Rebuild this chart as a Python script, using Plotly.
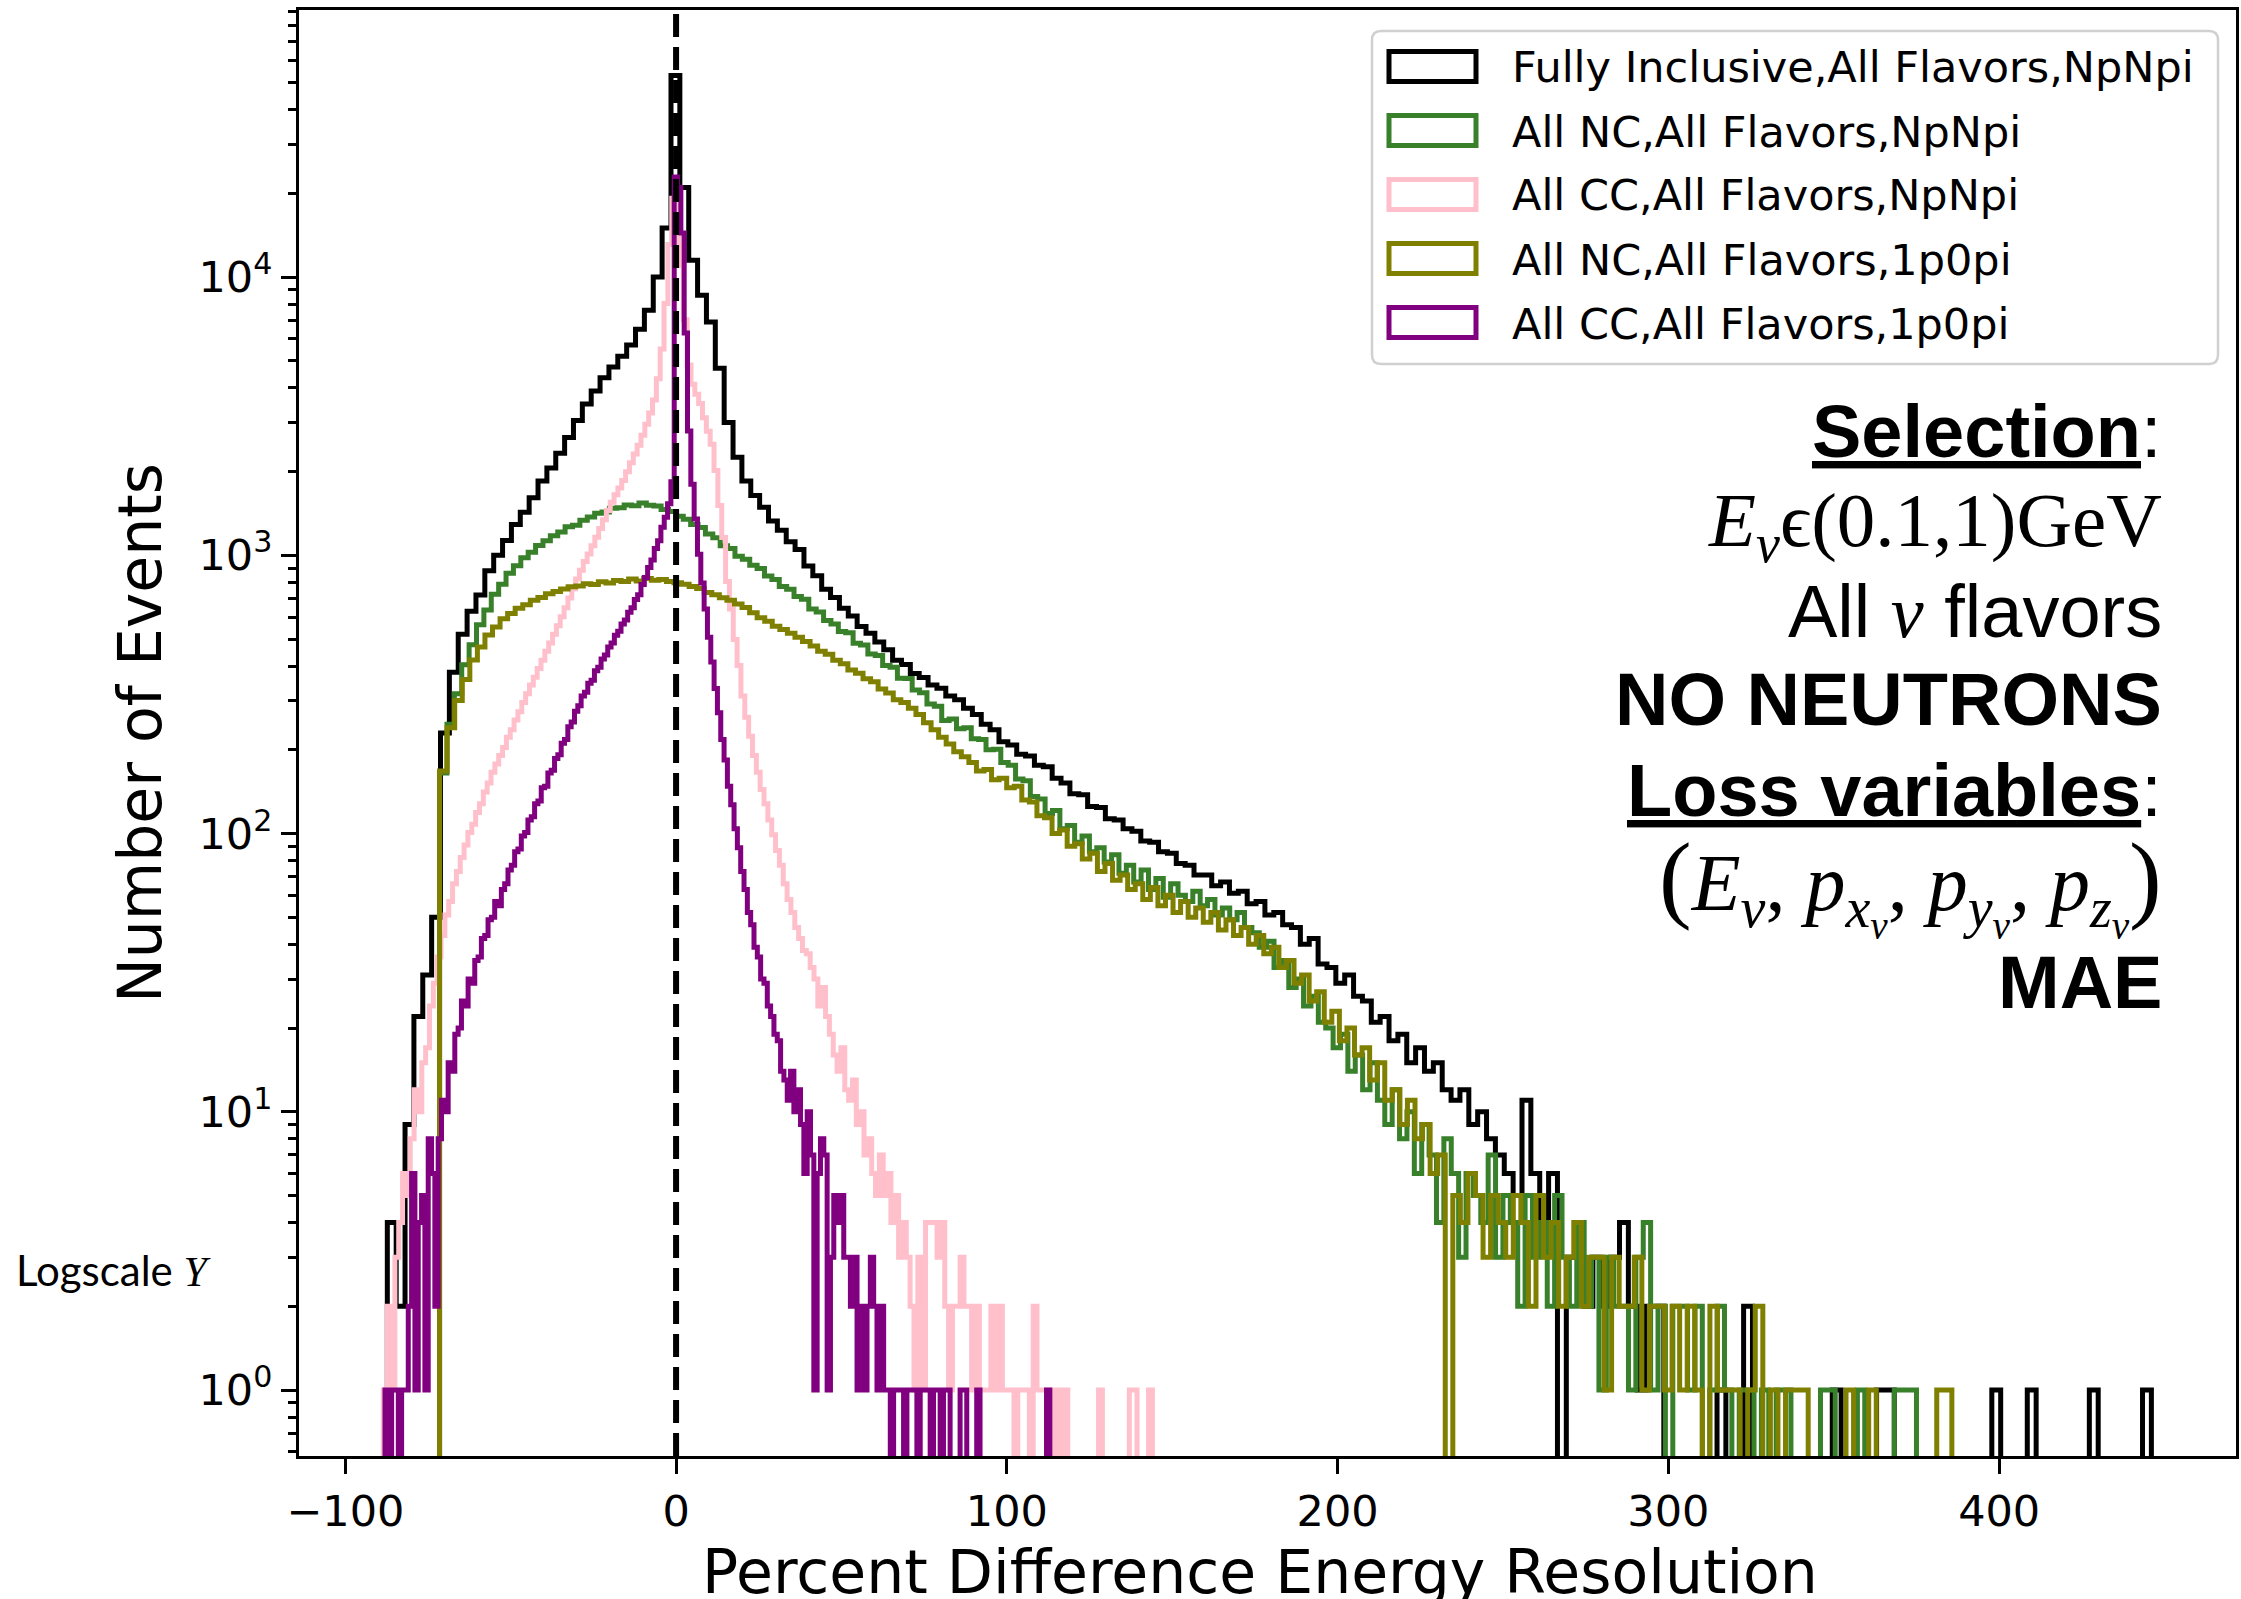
import plotly.graph_objects as go

# ------------------------------------------------------------------ data
SERIES = [
    "Fully Inclusive,All Flavors,NpNpi",
    "All NC,All Flavors,NpNpi",
    "All CC,All Flavors,NpNpi",
    "All NC,All Flavors,1p0pi",
    "All CC,All Flavors,1p0pi",
]
COLORS = ["#000000", "#38802a", "#ffc0cb", "#808000", "#800080"]

# first bin edge and bin width of each histogram (200 bins each)
BIN_START = [-87.3, -71.5, -88.5, -71.5, -88.0]
BIN_WIDTH = [2.68, 2.2325, 1.1625, 2.286, 1.005]

counts_fully_inclusive = [
    4, 2, 9, 22, 31, 50, 230, 380, 520, 630,
    720, 880, 1000, 1130, 1290, 1430, 1610, 1850, 2060, 2330,
    2650, 3050, 3500, 3900, 4350, 4750, 5200, 5700, 6500, 7600,
    10000, 15000, 53000, 21000, 11500, 8600, 6900, 4700, 3000, 2250,
    1850, 1640, 1490, 1330, 1230, 1120, 1050, 915, 845, 755,
    705, 645, 605, 555, 525, 488, 458, 420, 405, 376,
    364, 342, 333, 312, 303, 282, 268, 247, 236, 214,
    208, 193, 190, 176, 174, 158, 152, 139, 138, 125,
    124, 113, 112, 104, 102, 94, 93, 86, 85, 78,
    77, 71, 71, 65, 67, 61, 62, 56, 57, 51,
    52, 47, 46, 40, 42, 34, 33, 29, 31, 26,
    25, 21, 22, 18, 19, 15, 17, 14, 15, 12,
    11, 12, 9, 10, 8, 7, 6, 5, 11, 6,
    4, 6, 0, 3, 3, 2, 3, 2, 3, 4,
    2, 1, 2, 2, 0, 0, 0, 0, 0, 0,
    1, 0, 0, 2, 0, 0, 0, 0, 0, 0,
    0, 0, 0, 1, 0, 0, 0, 0, 1, 1,
    0, 0, 0, 0, 0, 0, 0, 0, 0, 0,
    0, 1, 0, 0, 0, 1, 0, 0, 0, 0,
    0, 0, 1, 0, 0, 0, 0, 0, 1, 0,
]
counts_nc_npnpi = [
    165, 247, 318, 404, 477, 563, 636, 724, 788, 862,
    918, 981, 1026, 1085, 1128, 1176, 1214, 1268, 1283, 1336,
    1374, 1418, 1432, 1478, 1482, 1516, 1508, 1542, 1515, 1503,
    1462, 1437, 1381, 1348, 1292, 1258, 1193, 1156, 1082, 1058,
    992, 968, 921, 897, 843, 818, 772, 756, 712, 695,
    641, 626, 583, 566, 532, 527, 483, 476, 442, 437,
    402, 396, 362, 361, 328, 321, 292, 287, 255, 258,
    238, 240, 219, 218, 200, 201, 180, 176, 157, 155,
    136, 133, 118, 121, 104, 107, 93, 98, 86, 89,
    79, 84, 72, 77, 67, 74, 63, 69, 59, 66,
    60, 57, 62, 55, 58, 51, 54, 49, 52, 46,
    44, 39, 41, 33, 35, 28, 30, 24, 26, 21,
    20, 17, 19, 14, 16, 12, 15, 11, 9, 12,
    8, 10, 6, 9, 7, 4, 8, 6, 3, 6,
    5, 4, 7, 3, 5, 4, 2, 5, 3, 4,
    2, 5, 3, 2, 4, 2, 3, 1, 3, 2,
    2, 1, 3, 4, 1, 2, 0, 2, 2, 1,
    2, 0, 1, 2, 1, 0, 1, 1, 0, 1,
    0, 1, 1, 0, 0, 0, 0, 1, 1, 0,
    0, 0, 1, 0, 0, 0, 0, 1, 1, 1,
]
counts_cc_npnpi = [
    1, 2, 1, 3, 4, 6, 5, 8, 12, 10,
    15, 17, 24, 29, 36, 43, 51, 57, 66, 73,
    82, 91, 101, 108, 119, 128, 141, 152, 166, 178,
    191, 204, 222, 236, 256, 274, 296, 318, 342, 365,
    392, 420, 452, 484, 521, 558, 602, 648, 702, 758,
    822, 884, 951, 1012, 1083, 1162, 1248, 1342, 1448, 1551,
    1652, 1747, 1856, 1998, 2153, 2312, 2486, 2704, 2962, 3248,
    3614, 4310, 5520, 8030, 13100, 19200, 21000, 11000, 7020, 4830,
    4120, 3790, 3510, 3120, 2790, 2510, 2020, 1510, 1160, 805,
    642, 498, 402, 312, 262, 224, 191, 166, 144, 128,
    112, 99, 87, 77, 66, 58, 52, 46, 42, 38,
    37, 33, 30, 24, 28, 22, 19, 16, 14, 17,
    12, 11, 13, 9, 10, 7, 8, 6, 5, 7,
    5, 6, 4, 5, 3, 4, 3, 2, 1, 3,
    1, 4, 4, 4, 3, 4, 2, 1, 2, 2,
    3, 2, 2, 1, 2, 1, 1, 1, 2, 1,
    2, 1, 1, 1, 0, 1, 1, 1, 0, 2,
    1, 1, 1, 1, 0, 1, 0, 1, 0, 0,
    0, 0, 0, 0, 0, 0, 1, 0, 0, 0,
    0, 0, 0, 0, 1, 1, 0, 0, 0, 1,
]
counts_nc_1p0pi = [
    168, 240, 301, 358, 421, 468, 517, 553, 592, 618,
    646, 664, 690, 706, 728, 742, 757, 771, 776, 790,
    785, 803, 796, 812, 806, 822, 808, 825, 813, 818,
    806, 797, 788, 772, 760, 736, 722, 704, 690, 668,
    650, 622, 597, 580, 556, 541, 525, 508, 490, 472,
    452, 441, 420, 408, 387, 377, 360, 351, 331, 320,
    303, 296, 282, 268, 250, 236, 222, 210, 197, 189,
    180, 168, 170, 156, 158, 146, 148, 132, 130, 116,
    114, 100, 103, 90, 92, 81, 85, 73, 78, 68,
    71, 63, 66, 58, 64, 55, 60, 52, 57, 50,
    54, 48, 52, 45, 49, 43, 46, 40, 43, 37,
    39, 33, 35, 29, 31, 25, 27, 21, 23, 18,
    20, 16, 17, 13, 15, 11, 12, 9, 11, 8,
    9, 6, 7, 0, 5, 4, 6, 5, 3, 5,
    4, 3, 5, 4, 2, 5, 3, 4, 2, 3,
    4, 2, 3, 3, 1, 3, 2, 2, 3, 1,
    2, 2, 1, 2, 1, 2, 1, 0, 2, 1,
    1, 1, 0, 1, 2, 0, 1, 0, 1, 1,
    1, 0, 0, 0, 0, 0, 1, 0, 0, 1,
    0, 0, 0, 0, 0, 0, 0, 0, 1, 1,
]
counts_cc_1p0pi = [
    1, 0, 1, 1, 0, 1, 1, 2, 6, 1,
    4, 5, 1, 8, 6, 2, 8, 11, 10, 15,
    14, 19, 20, 25, 24, 30, 29, 35, 36, 42,
    43, 49, 50, 57, 55, 63, 66, 74, 77, 86,
    88, 98, 101, 112, 115, 128, 131, 146, 148, 165,
    169, 186, 192, 211, 218, 242, 252, 275, 288, 312,
    322, 347, 356, 385, 396, 424, 438, 468, 484, 516,
    534, 567, 586, 624, 648, 694, 722, 786, 832, 905,
    962, 1058, 1128, 1262, 1371, 1532, 1840, 22900, 21000, 14400,
    6300, 2800, 1800, 1350, 1010, 795, 642, 508, 414, 332,
    272, 218, 184, 148, 127, 104, 89, 73, 63, 52,
    47, 39, 36, 30, 29, 24, 22, 19, 18, 14,
    13, 11, 14, 10, 12, 9, 6, 10, 7, 1,
    6, 8, 7, 1, 3, 5, 4, 5, 3, 3,
    2, 3, 1, 2, 1, 2, 3, 2, 1, 2,
    1, 1, 0, 1, 1, 1, 0, 1, 1, 1,
    0, 1, 1, 1, 0, 1, 1, 0, 1, 1,
    0, 0, 0, 1, 1, 0, 0, 0, 1, 0,
    0, 0, 0, 0, 0, 0, 0, 0, 0, 0,
    0, 0, 0, 0, 0, 0, 0, 0, 0, 1,
]
ALL_COUNTS = [counts_fully_inclusive, counts_nc_npnpi, counts_cc_npnpi,
              counts_nc_1p0pi, counts_cc_1p0pi]

X_TICKS = [-100, 0, 100, 200, 300, 400]
X_TICK_TEXT = ["\u2212100", "0", "100", "200", "300", "400"]
Y_TICKS = [1, 10, 100, 1000, 10000]
Y_TICK_TEXT = ["10<sup>0</sup>", "10<sup>1</sup>", "10<sup>2</sup>",
               "10<sup>3</sup>", "10<sup>4</sup>"]
Y_MINOR = [m * 10 ** e for e in range(-1, 5) for m in range(2, 10)]

X_TITLE = "Percent Difference Energy Resolution"
Y_TITLE = "Number of Events"

# ------------------------------------------------------------------ geometry
W, H = 2241, 1599
ML, MR, MT, MB = 299, 5, 10, 143
PW, PH = W - ML - MR, H - MT - MB


def fx(p):
    return (p - ML) / PW


def fy(p):
    return (H - MB - p) / PH


FONT = "DejaVu Sans"
FLOOR = 0.05  # empty bins drop below the log axis
LINE_W = 5

fig = go.Figure()

for name, color, start, width, counts in zip(SERIES, COLORS, BIN_START,
                                             BIN_WIDTH, ALL_COUNTS):
    n = len(counts)
    edges = [start + width * k for k in range(n + 1)]
    xs = [edges[0]] + edges[:n] + [edges[n]]
    ys = [FLOOR] + [c if c > 0 else FLOOR for c in counts] + [FLOOR]
    fig.add_trace(go.Scatter(
        x=xs, y=ys, mode="lines", name=name, showlegend=False,
        line=dict(color=color, width=LINE_W, shape="hv"),
        hoverinfo="skip",
    ))

# vertical dashed line at 0
fig.add_shape(type="line", xref="x", yref="y domain", x0=0, x1=0, y0=0, y1=1,
              line=dict(color="black", width=6, dash="23px,10px"))

# ------------------------------------------------------------------ legend (matplotlib style)
LX0, LX1, LY0, LY1 = 1372, 2218, 31, 364
rx, ry = 9 / PW, 9 / PH
xl, xr, yt, yb = fx(LX0), fx(LX1), fy(LY0), fy(LY1)
path = (f"M {xl + rx},{yt} L {xr - rx},{yt} Q {xr},{yt} {xr},{yt - ry} "
        f"L {xr},{yb + ry} Q {xr},{yb} {xr - rx},{yb} L {xl + rx},{yb} "
        f"Q {xl},{yb} {xl},{yb + ry} L {xl},{yt - ry} Q {xl},{yt} {xl + rx},{yt} Z")
fig.add_shape(type="path", path=path, xref="paper", yref="paper",
              fillcolor="rgba(255,255,255,0.8)",
              line=dict(color="#d0d0d0", width=2.5))

annotations = []
for i, (name, color) in enumerate(zip(SERIES, COLORS)):
    cy = 66.5 + 64 * i
    fig.add_shape(type="rect", xref="paper", yref="paper",
                  x0=fx(1389), x1=fx(1476), y0=fy(cy + 15), y1=fy(cy - 15),
                  line=dict(color=color, width=5), fillcolor="rgba(0,0,0,0)")
    annotations.append(dict(
        text=name, x=fx(1510), y=fy(cy + 1), xref="paper", yref="paper",
        xanchor="left", yanchor="middle", showarrow=False,
        font=dict(family=FONT, size=43, color="black")))

# ------------------------------------------------------------------ text block on the right
SERIF = "Liberation Serif"
SANS = "Liberation Sans"
RIGHT_LINES = [
    ("<b><u>Selection</u></b>:", 432, SANS, 74),
    ("<i>E</i><sub><i>\u03bd</i></sub>\u03f5(0.1,1)GeV", 526, SERIF, 77),
    ("All <span style='font-family:Liberation Serif'><i>\u03bd</i></span> flavors",
     611, SANS, 74),
    ("<b>NO NEUTRONS</b>", 699, SANS, 74),
    ("<b><u>Loss variables</u></b>:", 790, SANS, 74),
    ("<span style='font-size:98px'>(</span><i>E</i><sub><i>\u03bd</i></sub>, "
     "<i>p</i><sub><i>x</i><sub><i>\u03bd</i></sub></sub>, "
     "<i>p</i><sub><i>y</i><sub><i>\u03bd</i></sub></sub>, "
     "<i>p</i><sub><i>z</i><sub><i>\u03bd</i></sub></sub>"
     "<span style='font-size:98px'>)</span>", 885, SERIF, 80),
    ("<b>MAE</b>", 982, SANS, 74),
]
for text, cy, fam, size in RIGHT_LINES:
    annotations.append(dict(
        text=text, x=fx(2164), y=fy(cy), xref="paper", yref="paper",
        xanchor="right", yanchor="middle", showarrow=False, align="right",
        font=dict(family=fam, size=size, color="black")))

annotations.append(dict(
    text="Logscale <span style='font-family:Liberation Serif'><i>Y</i></span>",
    x=fx(14), y=fy(1270), xref="paper", yref="paper",
    xanchor="left", yanchor="middle", showarrow=False,
    font=dict(family="Lato", size=42, color="black")))

# x-axis title, placed like the reference (partly below the picture's edge)
annotations.append(dict(
    text=X_TITLE, x=fx(1260), y=fy(1572), xref="paper", yref="paper",
    xanchor="center", yanchor="middle", showarrow=False,
    font=dict(family=FONT, size=60, color="black")))

# ------------------------------------------------------------------ axes / layout
axis_common = dict(
    showgrid=False, zeroline=False, showline=True, linecolor="black",
    linewidth=3, mirror=True, ticks="outside", tickcolor="black",
    tickwidth=3, ticklen=15, automargin=False,
    tickfont=dict(family=FONT, size=43, color="black"),
)

fig.update_layout(
    width=W, height=H,
    margin=dict(l=ML, r=MR, t=MT, b=MB),
    paper_bgcolor="white", plot_bgcolor="white",
    showlegend=False,
    annotations=annotations,
    xaxis=dict(
        range=[-114.0, 471.6], tickvals=X_TICKS, ticktext=X_TICK_TEXT,
        **axis_common),
    yaxis=dict(
        type="log", range=[-0.237, 4.96], tickvals=Y_TICKS,
        ticktext=Y_TICK_TEXT,
        minor=dict(tickvals=Y_MINOR, ticks="outside", ticklen=8,
                   tickwidth=2.5, tickcolor="black", showgrid=False),
        title=dict(text=Y_TITLE, standoff=18,
                   font=dict(family=FONT, size=60, color="black")),
        **axis_common),
)

fig.write_html("out.html")
